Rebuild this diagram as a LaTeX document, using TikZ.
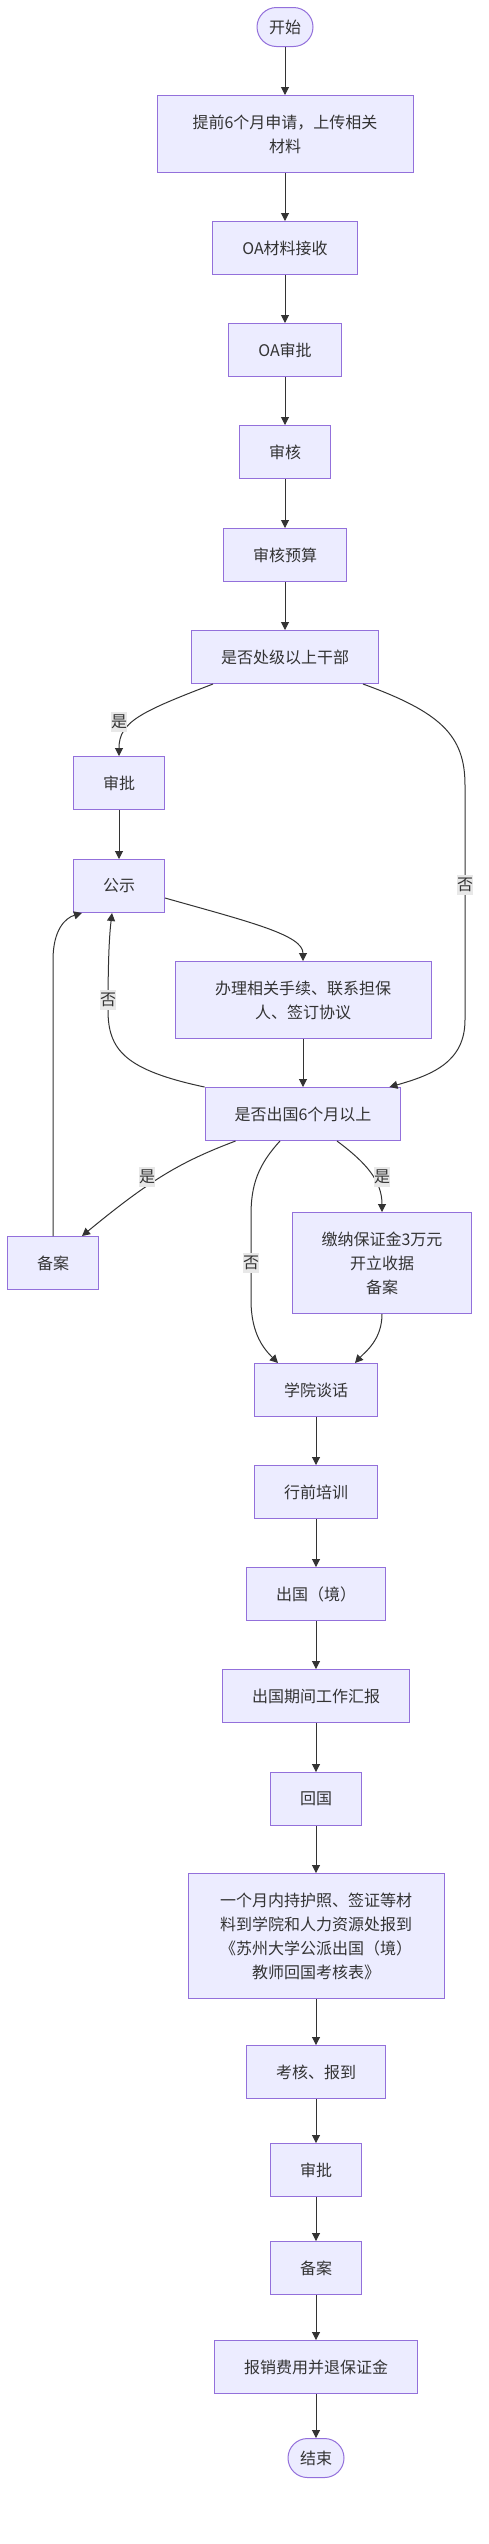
\documentclass[tikz,border=0pt]{standalone}
\usepackage{fontspec}
\newfontfamily\cjk{Noto Sans CJK SC}
\usepackage{xcolor}
\usetikzlibrary{arrows.meta, calc}
\definecolor{mmfill}{RGB}{236,236,255}
\definecolor{mmborder}{RGB}{147,112,219}
\definecolor{mmtext}{RGB}{51,51,51}
\definecolor{mmline}{RGB}{51,51,51}
\definecolor{mmtag}{RGB}{232,232,232}

\begin{document}
\begin{tikzpicture}[x=1pt, y=-1pt,
  flowbox/.style={draw=mmborder, fill=mmfill, text=mmtext, line width=1pt,
    font=\cjk\fontsize{16}{24}\selectfont, align=center,
    inner xsep=29.5pt, inner ysep=0pt, minimum height=53pt},
  termbox/.style={flowbox, rounded corners=19.5pt, inner xsep=12pt, minimum height=39pt},
  wide/.style={minimum width=256pt},
  twoline/.style={minimum height=77pt},
  threeline/.style={minimum height=101pt},
  fourline/.style={minimum height=125pt},
  flowline/.style={draw=mmline, line width=1pt, -{Triangle[length=8pt,width=8pt]}},
  edgetag/.style={fill=mmtag, text=mmtext, font=\cjk\fontsize{16}{24}\selectfont,
    inner xsep=0pt, inner ysep=3pt}]
\useasboundingbox (0,0) rectangle (489,2544);
\fill[white] (0,0) rectangle (489,2544);

% ---- application ----
\node[termbox] (start) at (285,27) {开始};
\node[flowbox, wide, twoline] (apply) at (285,134) {提前6个月申请，上传相关\\材料};
\node[flowbox] (oarecv) at (285,248) {OA材料接收};
\node[flowbox] (oaappr) at (285,350) {OA审批};
\node[flowbox] (review) at (285,452) {审核};
\node[flowbox] (budget) at (285,555) {审核预算};
\node[flowbox] (cadre) at (285,657) {是否处级以上干部};

% ---- cadre branch ----
\node[flowbox] (appr1) at (119,783) {审批};
\node[flowbox] (pub) at (119,886) {公示};
\node[flowbox, wide, twoline] (proc) at (303,1000) {办理相关手续、联系担保\\人、签订协议};
\node[flowbox] (sixm) at (303,1114) {是否出国6个月以上};
\node[flowbox] (fileL) at (53,1263) {备案};
\node[flowbox, threeline] (deposit) at (382,1263) {缴纳保证金3万元\\开立收据\\备案};

% ---- abroad and return ----
\node[flowbox] (talk) at (316,1390) {学院谈话};
\node[flowbox] (train) at (316,1492) {行前培训};
\node[flowbox] (abroad) at (316,1594) {出国（境）};
\node[flowbox] (report) at (316,1696) {出国期间工作汇报};
\node[flowbox] (back) at (316,1799) {回国};
\node[flowbox, wide, fourline] (retrep) at (316,1936)
  {一个月内持护照、签证等材\\料到学院和人力资源处报到\\《苏州大学公派出国（境）\\教师回国考核表》};
\node[flowbox] (check) at (316,2072) {考核、报到};
\node[flowbox] (appr2) at (316,2170) {审批};
\node[flowbox] (file2) at (316,2268) {备案};
\node[flowbox] (refund) at (316,2367) {报销费用并退保证金};
\node[termbox] (finish) at (316,2458) {结束};

% straight links
\foreach \a/\b in {start/apply, apply/oarecv, oarecv/oaappr, oaappr/review, review/budget,
                   budget/cadre, appr1/pub, proc/sixm, talk/train, train/abroad,
                   abroad/report, report/back, back/retrep, retrep/check, check/appr2,
                   appr2/file2, file2/refund, refund/finish}
  \draw[flowline] (\a) -- (\b);

% curved links
\draw[flowline] ([xshift=22pt]cadre.south west) .. controls (140,712) and (119,722) .. (appr1.north);
\draw[flowline] ([xshift=-16pt]cadre.south east) .. controls (440,712) and (465,735) .. (465,785)
  -- (465,1020) .. controls (465,1062) and (432,1075) .. ([xshift=-12pt]sixm.north east);
\draw[flowline] ([yshift=-12pt]pub.east) .. controls (250,922) and (303,935) .. (proc.north);
\draw[flowline] (sixm.north west) .. controls (125,1070) and (108,1050) .. (108,1010)
  .. controls (108,950) and (110,930) .. ([xshift=-7pt]pub.south);
\draw[flowline] ([xshift=31pt]sixm.south west) .. controls (180,1162) and (150,1180) .. ([xshift=29pt]fileL.north);
\draw[flowline] (fileL.north) -- (53,960) .. controls (53,930) and (65,918) .. ([xshift=-37pt]pub.south);
\draw[flowline] ([xshift=-23pt]sixm.south) .. controls (258,1165) and (251,1185) .. (251,1215)
  -- (251,1300) .. controls (251,1335) and (265,1350) .. ([xshift=-38pt]talk.north);
\draw[flowline] ([xshift=34pt]sixm.south) .. controls (365,1162) and (382,1180) .. (deposit.north);
\draw[flowline] (deposit.south) .. controls (382,1340) and (365,1352) .. ([xshift=39pt]talk.north);

% edge labels
\node[edgetag] (yes1) at (119,722) {是};
\node[edgetag] (no1) at (465,885) {否};
\node[edgetag] (no2) at (108,1000) {否};
\node[edgetag] (yes2) at (147,1177) {是};
\node[edgetag] (no3) at (251,1263) {否};
\node[edgetag] (yes3) at (382,1177) {是};
\end{tikzpicture}
\end{document}
